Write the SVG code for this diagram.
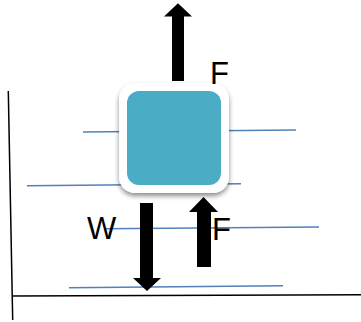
<svg xmlns="http://www.w3.org/2000/svg" width="361" height="322" viewBox="0 0 361 322">
<style>
.axis{stroke:#000;stroke-width:1.5;fill:none}
.lvl{stroke:#4F81BD;stroke-width:1.5;fill:none}
.arr{fill:#000}
.lbl{font-family:"Liberation Sans",Arial,sans-serif;font-size:31px;fill:#000}
</style>
<defs>
<filter id="sh" x="-20%" y="-20%" width="140%" height="150%">
<feGaussianBlur in="SourceAlpha" stdDeviation="2.5"/>
<feOffset dy="3" result="b"/>
<feComponentTransfer><feFuncA type="linear" slope="0.45"/></feComponentTransfer>
<feMerge><feMergeNode/><feMergeNode in="SourceGraphic"/></feMerge>
</filter>
</defs>
<g id="axes">
<path class="axis" d="M8.3,91 L12.7,320"/>
<path class="axis" d="M12,296 L361,294.7"/>
</g>
<g id="levels">
<path class="lvl" d="M83,132 L296,130"/>
<path class="lvl" d="M27,185.7 L241,183.7"/>
<path class="lvl" d="M105,228.7 L319,227"/>
<path class="lvl" d="M69,287.7 L283,285.7"/>
</g>
<g id="box">
<rect x="119" y="83" width="110" height="110" rx="16" fill="#fff" filter="url(#sh)"/>
<rect x="127" y="91" width="94" height="94" rx="12" fill="#4BACC6"/>
</g>
<g id="connectors">
<polygon class="arr" points="172,81 184,81 184,16.5 192,16.5 178,3.3 164,16.5 172,16.5"/>
<polygon class="arr" points="140,203 153,203 153,278 161,278 147,291 133,278 140,278"/>
<polygon class="arr" points="197,267 211,267 211,212 218,212 203.5,197 189,212 197,212"/>
</g>
<g id="labels">
<text class="lbl" x="210" y="83.5">F</text>
<text class="lbl" x="87" y="239">W</text>
<text class="lbl" x="212" y="239.5">F</text>
</g>
</svg>
